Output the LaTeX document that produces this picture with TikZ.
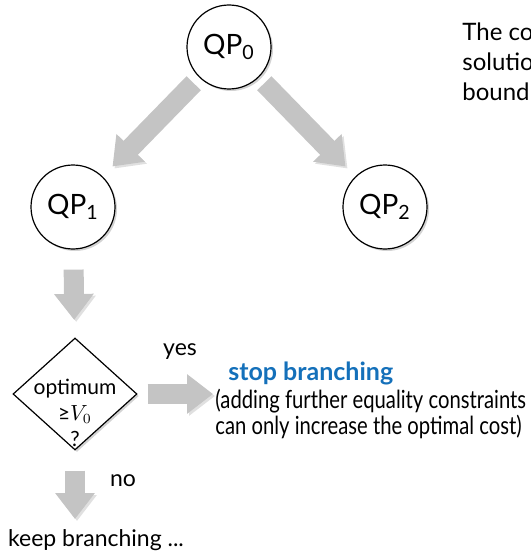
\documentclass[tikz,border=0pt]{standalone}
\usepackage{fontspec}
\setmainfont{Lato}
\newfontfamily\condfont[FakeStretch=0.81]{Lato}
\usetikzlibrary{shapes.geometric, arrows.meta, shadows}

\definecolor{arrowgray}{RGB}{196,196,196}
\definecolor{stopblue}{RGB}{20,112,186}

\tikzset{
	qp/.style = {circle, draw, line width = 0.6pt, fill = white, minimum size = 42pt, inner sep = 0pt,
		font = \fontsize{14}{16}\selectfont,
		drop shadow = {shadow xshift = 1pt, shadow yshift = -1pt, opacity = 0.35}},
	test/.style = {diamond, draw, line width = 0.6pt, fill = white, minimum width = 62pt, minimum height = 56pt,
		inner sep = 0pt, drop shadow = {shadow xshift = 1pt, shadow yshift = -1pt, opacity = 0.35}},
	bigarrow/.style = {arrowgray, line width = 10pt, -{Triangle[length = 13pt, width = 19pt]},
		preaction = {draw = black, opacity = 0.12, transform canvas = {shift = {(1pt, -1pt)}}}},
	txt/.style = {font = \fontsize{11.5}{13}\selectfont, inner sep = 0pt}
}

\begin{document}
\begin{tikzpicture}[x = 0.5pt, y = -0.5pt]

	% Frame of the picture
	
	\useasboundingbox (0, 0) rectangle (530, 551);
	
	% The three problems
	
	\node [qp] (qp0) at (229, 47) {QP\textsubscript{0}};
	\node [qp] (qp1) at (73, 207) {QP\textsubscript{1}};
	\node [qp] (qp2) at (385, 207) {QP\textsubscript{2}};
	
	% Note at the top right (cut off by the frame)
	
	\node [txt, anchor = west, align = left, font = \fontsize{12}{15}\selectfont] (note) at (462, 62)
		{The co\\ solutio\\ bound};
	
	% The test
	
	\node [test] (test) at (75, 394) {};
	\node [txt, align = center, font = \fontsize{10.5}{13}\selectfont] (testtext) at (75, 413)
		{optimum\\ ≥$V_0$\\ ?};
	
	% Outcomes
	
	\node [txt, anchor = north west, align = left] (stop) at (215, 362)
		{\hspace*{6.5pt}\textcolor{stopblue}{\fontsize{12.5}{15}\selectfont\textbf{stop branching}}\\[1pt]
		{\condfont\fontsize{12.5}{15}\selectfont (adding further equality constraints}\\[0pt]
		{\condfont\fontsize{12.5}{15}\selectfont can only increase the optimal cost)}};
	\node [txt] (keep) at (96, 540) {keep branching ...};
	
	% Branching arrows
	
	\begin{scope}
	
		\draw [bigarrow, shorten <= 4pt, shorten >= 7pt] (qp0) -- (qp1);
		\draw [bigarrow, shorten <= 4pt, shorten >= 7pt] (qp0) -- (qp2);
		\draw [bigarrow, shorten <= 10pt, shorten >= 9pt] (qp1) -- (test);
		
		\draw [bigarrow, shorten <= 5pt, shorten >= 1pt] (test.east) -- (test.east -| stop.west);
		\draw [bigarrow, shorten <= 10pt, shorten >= 5pt] (test.south) -- (keep.north -| test.south);
		
	\end{scope}
	
	% Answers
	
	\node [txt] (yes) at (180, 352) {yes};
	\node [txt] (no) at (123, 481) {no};
		
\end{tikzpicture}
\end{document}
